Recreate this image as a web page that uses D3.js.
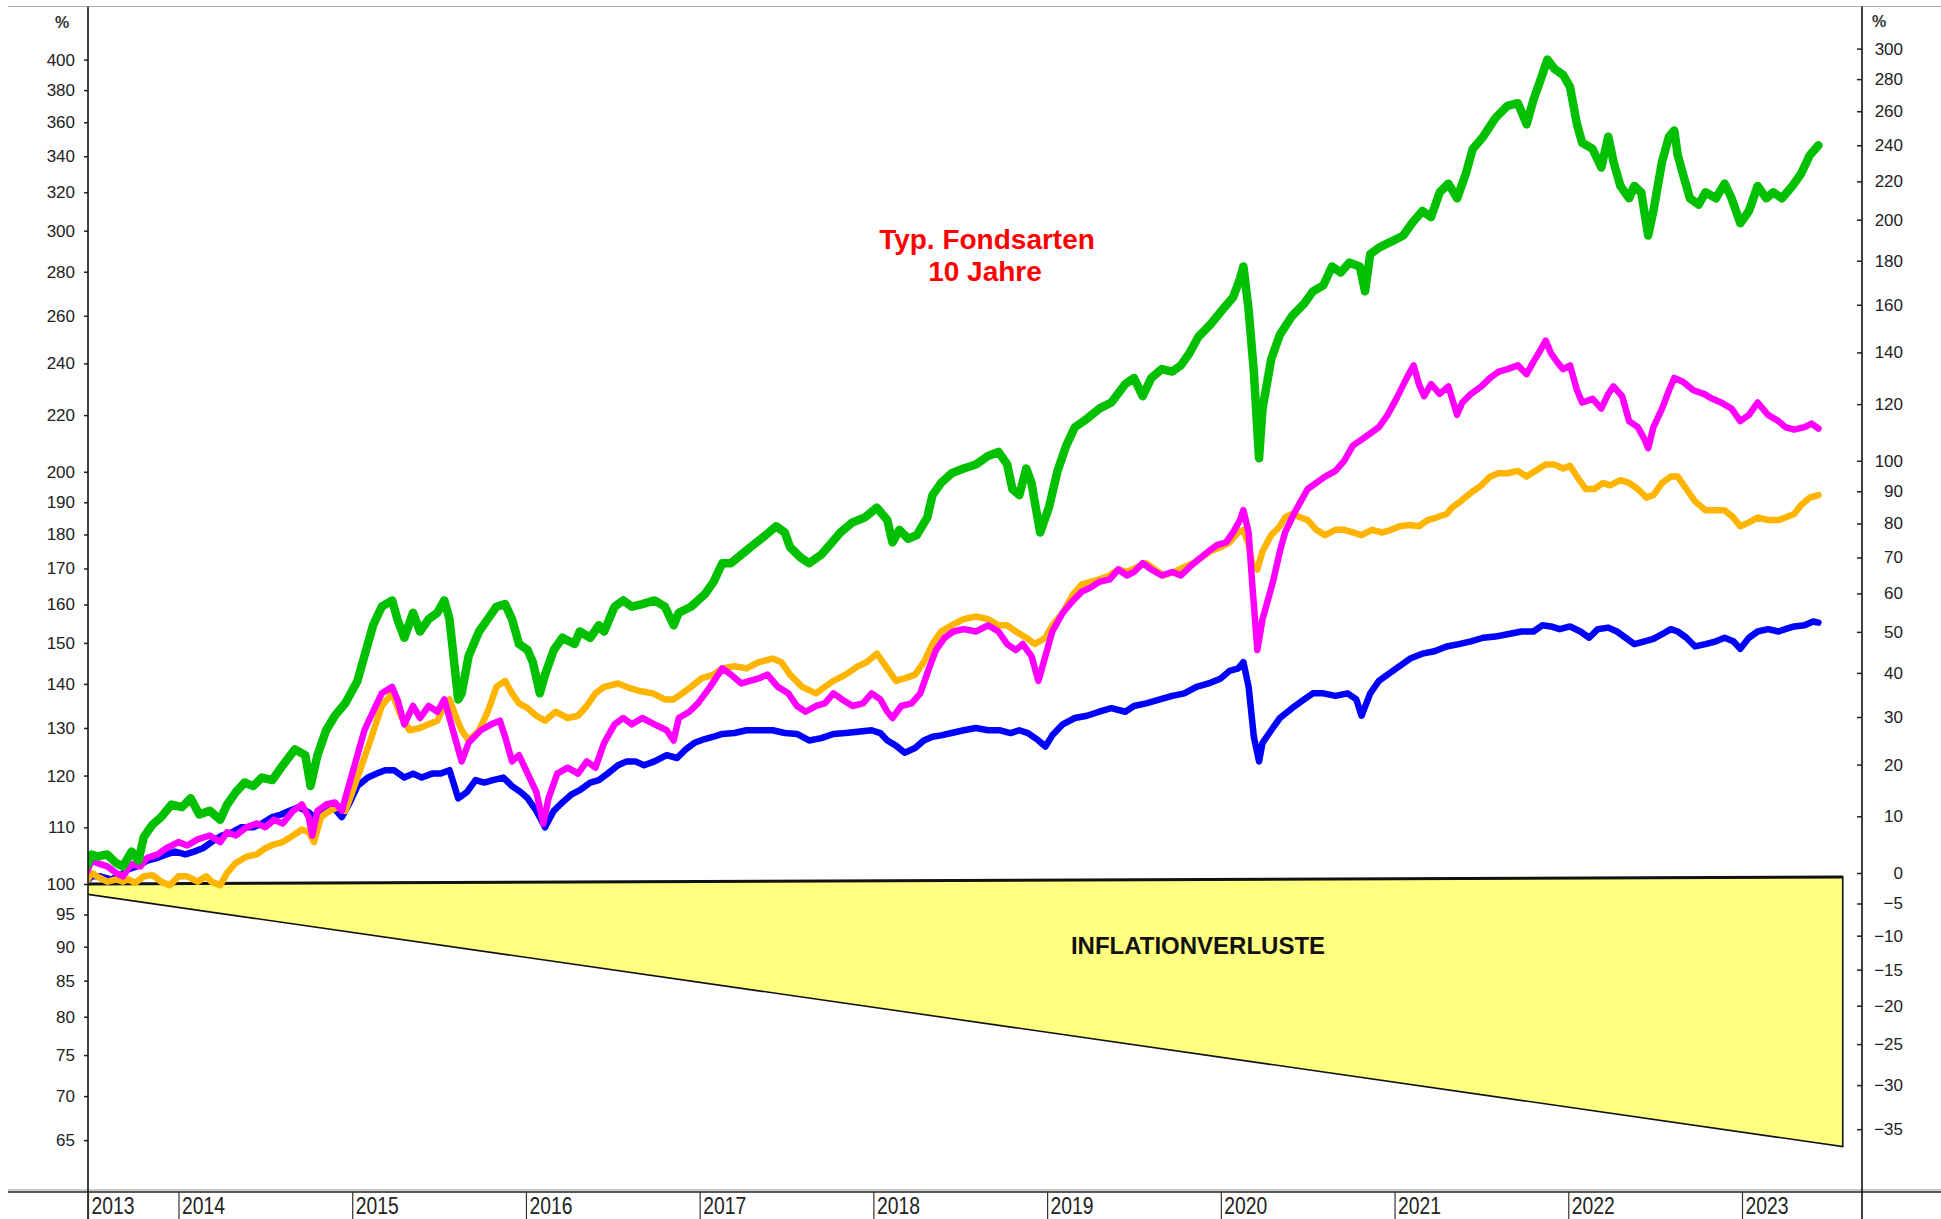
<!DOCTYPE html>
<html><head><meta charset="utf-8">
<script src="https://cdn.jsdelivr.net/npm/d3@7"></script>
<style>
html,body{margin:0;padding:0;background:#fff;}
svg{display:block;}
text{font-family:"Liberation Sans",Arial,sans-serif;}
</style></head><body>
<svg id="chart" width="1941" height="1219"></svg>
<script>
// ---------- DATA (index values, start = 100; x in decimal years) ----------
const greenSeries = [[2013.47,103.0],[2013.50,105.1],[2013.53,104.7],[2013.59,105.1],[2013.64,103.6],[2013.68,103.0],[2013.73,105.6],[2013.77,104.0],[2013.80,108.2],[2013.85,110.5],[2013.90,111.9],[2013.96,114.3],[2014.02,113.8],[2014.07,115.5],[2014.12,112.4],[2014.18,113.1],[2014.24,111.4],[2014.28,114.3],[2014.33,116.7],[2014.38,118.6],[2014.43,117.9],[2014.48,119.6],[2014.54,119.1],[2014.59,121.6],[2014.67,125.4],[2014.73,124.2],[2014.76,117.9],[2014.80,124.2],[2014.85,129.5],[2014.90,132.7],[2014.96,135.5],[2015.03,140.7],[2015.07,146.7],[2015.12,154.5],[2015.17,159.4],[2015.23,161.1],[2015.26,156.1],[2015.30,151.3],[2015.35,157.8],[2015.39,152.9],[2015.44,156.1],[2015.49,157.8],[2015.53,161.1],[2015.56,156.1],[2015.61,136.4],[2015.63,137.8],[2015.67,146.7],[2015.73,152.9],[2015.78,156.1],[2015.83,159.4],[2015.88,160.1],[2015.92,156.1],[2015.96,149.7],[2016.01,148.2],[2016.04,145.2],[2016.08,137.8],[2016.11,142.2],[2016.16,148.2],[2016.21,151.3],[2016.28,149.7],[2016.31,152.9],[2016.37,151.3],[2016.42,154.5],[2016.45,152.9],[2016.51,159.4],[2016.56,161.1],[2016.61,159.4],[2016.67,160.1],[2016.74,161.1],[2016.80,159.4],[2016.85,154.5],[2016.88,157.8],[2016.95,159.4],[2017.03,162.8],[2017.08,166.2],[2017.13,171.5],[2017.18,171.5],[2017.24,174.0],[2017.31,176.9],[2017.38,179.8],[2017.44,182.5],[2017.49,180.6],[2017.52,176.2],[2017.58,173.2],[2017.63,171.5],[2017.70,174.0],[2017.75,176.9],[2017.81,180.6],[2017.88,183.7],[2017.95,185.2],[2018.02,188.3],[2018.08,184.4],[2018.11,177.6],[2018.15,181.4],[2018.20,178.7],[2018.25,179.8],[2018.31,185.2],[2018.34,192.3],[2018.39,196.3],[2018.45,199.5],[2018.52,201.1],[2018.59,202.5],[2018.66,205.4],[2018.72,206.8],[2018.77,202.5],[2018.80,194.3],[2018.84,192.3],[2018.88,201.1],[2018.91,196.3],[2018.96,180.6],[2019.01,188.3],[2019.06,200.3],[2019.11,209.0],[2019.16,215.6],[2019.23,218.7],[2019.30,222.4],[2019.37,224.7],[2019.45,231.8],[2019.50,234.2],[2019.55,227.1],[2019.60,234.2],[2019.66,237.7],[2019.72,236.7],[2019.77,239.2],[2019.82,244.2],[2019.87,250.9],[2019.94,256.2],[2020.02,263.7],[2020.07,268.1],[2020.11,276.6],[2020.13,282.5],[2020.16,262.6],[2020.19,236.7],[2020.22,204.6],[2020.24,222.4],[2020.29,241.7],[2020.34,251.9],[2020.41,259.9],[2020.48,265.4],[2020.53,270.9],[2020.59,273.7],[2020.64,282.5],[2020.69,279.6],[2020.74,284.3],[2020.80,282.5],[2020.83,270.9],[2020.86,288.4],[2020.91,291.6],[2020.98,294.5],[2021.05,297.6],[2021.10,303.8],[2021.16,310.1],[2021.21,306.9],[2021.26,320.0],[2021.31,324.7],[2021.36,316.8],[2021.41,330.1],[2021.45,344.2],[2021.51,351.4],[2021.58,362.5],[2021.65,370.1],[2021.71,371.7],[2021.76,358.8],[2021.80,374.0],[2021.85,389.8],[2021.88,400.0],[2021.92,393.9],[2021.97,389.8],[2022.01,382.0],[2022.05,358.8],[2022.08,347.8],[2022.14,344.2],[2022.19,333.6],[2022.23,351.4],[2022.26,337.1],[2022.30,323.4],[2022.35,316.8],[2022.38,323.4],[2022.42,320.0],[2022.46,297.6],[2022.49,310.1],[2022.54,337.1],[2022.58,351.4],[2022.61,355.1],[2022.63,340.6],[2022.66,330.1],[2022.70,316.8],[2022.75,313.4],[2022.79,320.0],[2022.85,316.8],[2022.90,324.7],[2022.94,316.8],[2022.99,303.8],[2023.04,310.1],[2023.09,323.4],[2023.14,316.8],[2023.18,320.0],[2023.23,316.8],[2023.29,323.4],[2023.34,330.1],[2023.39,340.6],[2023.44,346.3]];

const magentaSeries = [[2013.47,101.9],[2013.50,104.0],[2013.55,103.4],[2013.59,103.0],[2013.64,101.9],[2013.68,101.3],[2013.73,103.4],[2013.78,103.0],[2013.82,104.5],[2013.88,105.1],[2013.93,106.2],[2014.00,107.3],[2014.05,106.7],[2014.11,107.8],[2014.18,108.5],[2014.24,107.3],[2014.28,109.1],[2014.33,108.5],[2014.39,110.0],[2014.45,110.7],[2014.50,110.0],[2014.55,111.4],[2014.60,110.7],[2014.66,113.1],[2014.71,114.3],[2014.75,111.9],[2014.77,108.5],[2014.80,113.1],[2014.85,114.3],[2014.90,114.7],[2014.94,113.1],[2014.97,116.7],[2015.02,122.9],[2015.07,129.5],[2015.12,133.6],[2015.17,137.8],[2015.23,139.3],[2015.26,136.4],[2015.30,130.8],[2015.35,134.9],[2015.39,132.2],[2015.44,134.9],[2015.49,133.6],[2015.53,136.4],[2015.56,132.2],[2015.60,126.8],[2015.63,122.9],[2015.67,126.8],[2015.74,129.5],[2015.80,130.8],[2015.85,131.6],[2015.88,128.1],[2015.92,122.9],[2015.96,124.2],[2016.01,120.4],[2016.06,116.7],[2016.10,110.7],[2016.13,115.5],[2016.18,120.4],[2016.24,121.6],[2016.30,120.4],[2016.35,122.9],[2016.40,121.6],[2016.45,126.8],[2016.51,130.8],[2016.56,132.2],[2016.61,130.8],[2016.67,132.2],[2016.74,130.8],[2016.81,129.5],[2016.85,127.3],[2016.88,132.2],[2016.94,133.6],[2016.99,135.5],[2017.06,139.3],[2017.13,143.7],[2017.18,142.2],[2017.24,140.1],[2017.29,140.7],[2017.34,141.3],[2017.39,142.2],[2017.45,139.3],[2017.51,137.8],[2017.56,134.9],[2017.61,133.6],[2017.67,134.9],[2017.72,135.5],[2017.77,137.8],[2017.82,136.4],[2017.88,134.9],[2017.94,135.5],[2017.99,137.8],[2018.04,136.4],[2018.08,133.6],[2018.11,132.2],[2018.16,134.9],[2018.22,135.5],[2018.27,137.8],[2018.32,143.7],[2018.36,148.2],[2018.41,151.3],[2018.46,152.9],[2018.52,153.5],[2018.59,152.9],[2018.66,154.5],[2018.72,152.9],[2018.77,149.7],[2018.82,148.2],[2018.86,149.7],[2018.91,146.7],[2018.95,140.7],[2018.99,146.7],[2019.03,152.9],[2019.09,157.8],[2019.15,161.1],[2019.20,163.5],[2019.25,164.6],[2019.30,166.2],[2019.36,166.9],[2019.41,169.7],[2019.46,168.0],[2019.50,169.0],[2019.55,171.5],[2019.60,169.7],[2019.66,168.0],[2019.72,169.0],[2019.77,168.0],[2019.82,170.4],[2019.87,172.5],[2019.93,175.0],[2019.98,176.9],[2020.03,177.6],[2020.07,180.6],[2020.11,184.4],[2020.13,187.5],[2020.16,180.6],[2020.18,166.2],[2020.21,148.2],[2020.24,156.1],[2020.30,166.2],[2020.34,175.0],[2020.37,180.6],[2020.42,186.3],[2020.46,190.3],[2020.50,194.3],[2020.55,196.3],[2020.60,198.4],[2020.66,200.3],[2020.71,203.7],[2020.76,209.0],[2020.81,211.1],[2020.86,213.3],[2020.91,215.6],[2020.96,220.1],[2021.01,226.1],[2021.07,234.2],[2021.11,239.2],[2021.14,231.8],[2021.17,227.1],[2021.21,231.8],[2021.26,228.0],[2021.31,230.9],[2021.36,220.1],[2021.39,224.7],[2021.44,228.0],[2021.50,230.9],[2021.55,234.2],[2021.60,236.7],[2021.65,237.7],[2021.71,239.2],[2021.76,235.7],[2021.80,240.7],[2021.83,244.2],[2021.87,249.4],[2021.90,244.2],[2021.94,240.2],[2021.97,237.7],[2022.01,239.2],[2022.05,229.4],[2022.08,224.7],[2022.14,226.1],[2022.19,222.4],[2022.23,228.0],[2022.26,230.9],[2022.31,227.1],[2022.35,217.8],[2022.40,215.6],[2022.44,211.1],[2022.46,208.1],[2022.49,215.6],[2022.54,222.4],[2022.58,229.4],[2022.61,234.2],[2022.66,232.7],[2022.72,229.4],[2022.78,228.0],[2022.83,226.1],[2022.88,224.7],[2022.94,222.4],[2022.99,217.8],[2023.04,220.1],[2023.09,224.7],[2023.15,220.1],[2023.21,217.8],[2023.25,215.6],[2023.30,214.7],[2023.36,215.6],[2023.40,216.9],[2023.44,215.1]];

const orangeSeries = [[2013.47,100.4],[2013.50,101.9],[2013.53,101.3],[2013.59,100.4],[2013.64,100.8],[2013.68,100.4],[2013.71,100.8],[2013.75,100.2],[2013.80,101.3],[2013.85,101.5],[2013.90,100.4],[2013.95,99.8],[2014.00,101.3],[2014.05,101.3],[2014.11,100.4],[2014.16,101.3],[2014.19,100.4],[2014.24,99.8],[2014.28,101.9],[2014.33,103.6],[2014.39,104.7],[2014.45,105.1],[2014.50,106.2],[2014.55,106.9],[2014.60,107.3],[2014.66,108.5],[2014.71,109.6],[2014.75,109.1],[2014.78,107.3],[2014.82,111.9],[2014.87,113.1],[2014.92,113.8],[2014.96,113.1],[2015.00,116.7],[2015.05,121.6],[2015.10,126.8],[2015.17,134.9],[2015.23,137.8],[2015.28,132.7],[2015.33,129.5],[2015.39,130.0],[2015.44,130.8],[2015.49,131.6],[2015.53,134.9],[2015.56,136.4],[2015.60,132.2],[2015.63,129.5],[2015.67,127.3],[2015.73,129.5],[2015.78,133.6],[2015.83,139.3],[2015.88,140.7],[2015.92,137.8],[2015.96,135.5],[2016.01,134.4],[2016.06,132.7],[2016.11,131.6],[2016.17,133.6],[2016.24,132.2],[2016.30,132.7],[2016.35,134.9],[2016.40,137.8],[2016.45,139.3],[2016.53,140.1],[2016.60,139.0],[2016.65,138.4],[2016.73,137.8],[2016.80,136.4],[2016.85,136.4],[2016.90,137.8],[2016.95,139.3],[2017.01,141.3],[2017.08,142.2],[2017.13,143.7],[2017.20,144.2],[2017.27,143.7],[2017.34,145.2],[2017.42,146.1],[2017.47,145.2],[2017.52,142.2],[2017.59,139.3],[2017.67,137.8],[2017.72,139.3],[2017.77,140.7],[2017.84,142.2],[2017.91,144.2],[2017.96,145.2],[2018.02,147.3],[2018.08,143.7],[2018.13,140.7],[2018.18,141.3],[2018.24,142.2],[2018.29,145.2],[2018.34,149.7],[2018.39,152.9],[2018.45,154.5],[2018.52,156.1],[2018.59,156.8],[2018.66,156.1],[2018.72,154.5],[2018.77,154.5],[2018.82,152.9],[2018.88,151.3],[2018.93,149.7],[2018.99,151.3],[2019.03,154.5],[2019.09,157.8],[2019.15,162.8],[2019.20,165.5],[2019.25,166.2],[2019.30,166.9],[2019.36,168.0],[2019.41,169.7],[2019.46,169.0],[2019.52,170.4],[2019.57,171.5],[2019.62,169.7],[2019.67,168.0],[2019.73,169.0],[2019.79,170.4],[2019.84,171.5],[2019.89,173.2],[2019.94,175.0],[2020.00,176.2],[2020.05,177.6],[2020.10,180.6],[2020.13,181.4],[2020.16,176.9],[2020.18,171.5],[2020.21,169.7],[2020.24,175.0],[2020.29,179.8],[2020.34,182.5],[2020.37,185.2],[2020.41,186.3],[2020.46,185.2],[2020.50,184.4],[2020.55,181.4],[2020.60,179.8],[2020.66,181.4],[2020.71,181.4],[2020.76,180.6],[2020.81,179.8],[2020.87,181.4],[2020.93,180.6],[2020.98,181.4],[2021.03,182.5],[2021.09,182.9],[2021.14,182.5],[2021.19,184.4],[2021.24,185.2],[2021.30,186.3],[2021.33,188.3],[2021.38,190.3],[2021.44,193.1],[2021.50,195.5],[2021.55,198.4],[2021.60,199.5],[2021.65,199.5],[2021.71,200.3],[2021.76,198.4],[2021.81,200.3],[2021.87,202.5],[2021.92,202.5],[2021.97,201.1],[2022.01,202.0],[2022.05,198.4],[2022.10,194.3],[2022.15,194.3],[2022.20,196.3],[2022.24,195.5],[2022.30,197.2],[2022.35,196.3],[2022.40,194.3],[2022.45,191.5],[2022.49,192.3],[2022.54,196.3],[2022.59,198.4],[2022.63,198.4],[2022.68,194.3],[2022.73,190.3],[2022.79,187.5],[2022.85,187.5],[2022.90,187.5],[2022.95,185.2],[2022.99,182.5],[2023.04,183.7],[2023.09,185.2],[2023.15,184.4],[2023.21,184.4],[2023.25,185.2],[2023.30,186.3],[2023.34,189.1],[2023.39,191.5],[2023.44,192.3]];

const blueSeries = [[2013.47,100.4],[2013.50,101.3],[2013.55,101.3],[2013.61,100.8],[2013.66,101.3],[2013.71,102.5],[2013.76,103.0],[2013.82,104.0],[2013.88,104.5],[2013.93,105.1],[2013.98,105.6],[2014.04,105.1],[2014.09,105.6],[2014.14,106.2],[2014.19,107.3],[2014.25,108.5],[2014.31,109.1],[2014.36,110.0],[2014.43,110.0],[2014.48,110.7],[2014.54,111.9],[2014.59,112.4],[2014.64,113.1],[2014.69,113.8],[2014.75,112.8],[2014.78,111.9],[2014.83,113.1],[2014.89,113.8],[2014.94,111.9],[2014.98,114.3],[2015.03,117.9],[2015.09,119.6],[2015.14,120.4],[2015.19,121.1],[2015.24,121.1],[2015.30,119.6],[2015.35,120.4],[2015.40,119.6],[2015.46,120.4],[2015.51,120.4],[2015.56,121.1],[2015.61,115.5],[2015.66,116.7],[2015.71,119.1],[2015.76,118.6],[2015.81,119.1],[2015.87,119.6],[2015.92,117.9],[2015.97,116.7],[2016.01,115.5],[2016.06,113.1],[2016.11,110.0],[2016.16,113.1],[2016.21,114.7],[2016.26,116.2],[2016.31,117.1],[2016.37,118.6],[2016.42,119.1],[2016.47,120.4],[2016.53,122.1],[2016.58,122.9],[2016.63,122.9],[2016.68,122.1],[2016.74,122.9],[2016.81,124.2],[2016.87,123.6],[2016.92,125.4],[2016.97,126.8],[2017.03,127.6],[2017.08,128.1],[2017.13,128.7],[2017.20,128.9],[2017.27,129.5],[2017.34,129.5],[2017.42,129.5],[2017.49,128.9],[2017.56,128.7],[2017.63,127.3],[2017.70,127.8],[2017.77,128.7],[2017.84,128.9],[2017.91,129.2],[2017.99,129.5],[2018.04,128.9],[2018.08,127.3],[2018.13,126.2],[2018.18,124.7],[2018.24,125.7],[2018.29,127.3],[2018.34,128.1],[2018.39,128.4],[2018.45,128.9],[2018.52,129.5],[2018.59,130.0],[2018.66,129.5],[2018.73,129.5],[2018.79,128.9],[2018.84,129.5],[2018.89,128.9],[2018.95,127.3],[2018.99,126.0],[2019.03,128.4],[2019.09,130.8],[2019.16,132.2],[2019.23,132.7],[2019.30,133.6],[2019.37,134.4],[2019.45,133.6],[2019.50,134.9],[2019.57,135.5],[2019.65,136.4],[2019.72,137.2],[2019.79,137.8],[2019.86,139.3],[2019.93,140.1],[2020.00,141.3],[2020.05,143.1],[2020.10,143.7],[2020.13,145.2],[2020.16,139.3],[2020.19,128.1],[2020.22,122.9],[2020.24,126.8],[2020.29,129.5],[2020.34,132.2],[2020.41,134.4],[2020.48,136.4],[2020.53,137.8],[2020.59,137.8],[2020.66,137.2],[2020.73,137.8],[2020.78,136.4],[2020.81,132.7],[2020.86,137.8],[2020.91,140.7],[2020.96,142.2],[2021.01,143.7],[2021.09,146.1],[2021.16,147.3],[2021.23,147.9],[2021.30,149.1],[2021.37,149.7],[2021.44,150.4],[2021.51,151.3],[2021.58,151.6],[2021.65,152.2],[2021.73,152.9],[2021.80,152.9],[2021.85,154.5],[2021.90,154.2],[2021.95,153.5],[2022.01,154.2],[2022.07,152.9],[2022.12,151.3],[2022.17,153.5],[2022.23,153.9],[2022.28,152.9],[2022.33,151.3],[2022.38,149.7],[2022.44,150.4],[2022.49,151.0],[2022.54,152.2],[2022.59,153.5],[2022.63,152.9],[2022.68,151.3],[2022.73,149.1],[2022.79,149.7],[2022.85,150.4],[2022.90,151.3],[2022.95,150.4],[2022.99,148.5],[2023.04,151.3],[2023.09,152.9],[2023.15,153.5],[2023.21,152.9],[2023.25,153.5],[2023.30,154.2],[2023.36,154.5],[2023.41,155.5],[2023.44,155.2]];

const inflationYears = [2013.47, 2023.58];
const inflationUpper = [100, 101.2];
const inflationLower = [98.3, 64.3];

const leftTicks = [400,380,360,340,320,300,280,260,240,220,200,190,180,170,160,150,140,130,120,110,100,95,90,85,80,75,70,65];
const rightTicks = [300,280,260,240,220,200,180,160,140,120,100,90,80,70,60,50,40,30,20,10,0,-5,-10,-15,-20,-25,-30,-35];
const yearTicks = [2014,2015,2016,2017,2018,2019,2020,2021,2022,2023];
const titleLines = ["Typ. Fondsarten","10 Jahre"];
const areaLabel = "INFLATIONVERLUSTE";

// ---------- LAYOUT ----------
const W = 1941, H = 1219;
const axL = 88, axR = 1862, topY = 6.5, botY = 1192;
const svg = d3.select("#chart");

const x = d3.scaleLinear().domain([2014, 2023]).range([178.5, 1742]);
const y = d3.scaleLog().domain([100, 400]).range([884, 59.6]);
const yRight = d3.scaleLog().domain([100, 400]).range([884 - 11, 59.6 - 11]);

svg.append("defs").append("clipPath").attr("id","plot")
  .append("rect").attr("x",axL).attr("y",topY).attr("width",axR-axL).attr("height",botY-topY);

// frame lines
svg.append("line").attr("x1",8).attr("x2",W).attr("y1",topY).attr("y2",topY).attr("stroke","#b0b0b0").attr("stroke-width",1.2);
svg.append("line").attr("x1",8).attr("x2",W).attr("y1",botY-2).attr("y2",botY-2).attr("stroke","#999").attr("stroke-width",1);
svg.append("line").attr("x1",8).attr("x2",W).attr("y1",botY).attr("y2",botY).attr("stroke","#222").attr("stroke-width",1.6);

const plot = svg.append("g").attr("clip-path","url(#plot)");

// inflation area
const inflData = inflationYears.map((t,i)=>({t, lo:inflationLower[i], hi:inflationUpper[i]}));
plot.append("path").datum(inflData)
  .attr("d", d3.area().x(d=>x(d.t)).y0(d=>y(d.lo)).y1(d=>y(d.hi)))
  .attr("fill","#ffff80").attr("stroke","#111").attr("stroke-width",1.6);
plot.append("path").datum(inflData)
  .attr("d", d3.line().x(d=>x(d.t)).y(d=>y(d.hi)))
  .attr("fill","none").attr("stroke","#111").attr("stroke-width",3);

// series
const line = d3.line().x(d=>x(d[0])).y(d=>y(d[1])).curve(d3.curveLinear);
const seriesDefs = [
  {data: blueSeries, color:"#0000ff", w:6.5},
  {data: orangeSeries, color:"#ffb400", w:6.5},
  {data: magentaSeries, color:"#ff00ff", w:6.5},
  {data: greenSeries, color:"#00c000", w:8.5}
];
seriesDefs.forEach(s=>{
  plot.append("path").datum(s.data).attr("d", line)
    .attr("fill","none").attr("stroke", s.color).attr("stroke-width", s.w)
    .attr("stroke-linejoin","round").attr("stroke-linecap","round");
});

// left axis
const gL = svg.append("g").attr("transform",`translate(${axL},0)`)
  .call(d3.axisLeft(y).tickValues(leftTicks).tickFormat(d3.format("d")).tickSize(4).tickPadding(9));
gL.select(".domain").remove();
gL.selectAll("line").attr("stroke","#222").attr("stroke-width",1.5);
gL.selectAll("text").attr("font-size",17).attr("fill","#222").attr("font-family","Liberation Sans, Arial, sans-serif");
svg.append("line").attr("x1",axL).attr("x2",axL).attr("y1",topY).attr("y2",H).attr("stroke","#111").attr("stroke-width",1.6);

// right axis
const gR = svg.append("g").attr("transform",`translate(${axR},0)`)
  .call(d3.axisRight(yRight).tickValues(rightTicks.map(p=>p+100)).tickFormat(d=>d3.format("d")(d-100)).tickSizeInner(-5).tickSizeOuter(0).tickPadding(0));
gR.select(".domain").remove();
gR.selectAll("line").attr("stroke","#222").attr("stroke-width",1.5);
gR.selectAll("text").attr("font-size",17).attr("fill","#222").attr("text-anchor","end").attr("x",41)
  .attr("font-family","Liberation Sans, Arial, sans-serif");
svg.append("line").attr("x1",axR).attr("x2",axR).attr("y1",topY).attr("y2",H).attr("stroke","#111").attr("stroke-width",1.6);

// % labels
svg.append("text").attr("x",62).attr("y",28).attr("text-anchor","middle").attr("font-size",16).attr("font-weight","bold").attr("fill","#333").text("%");
svg.append("text").attr("x",1879).attr("y",27).attr("text-anchor","middle").attr("font-size",16).attr("font-weight","bold").attr("fill","#333").text("%");

// bottom year band
const startYear = x.invert(axL);
const gB = svg.append("g").attr("transform",`translate(0,${botY})`)
  .call(d3.axisBottom(x).tickValues([startYear, ...yearTicks]).tickFormat(d=>Math.floor(d+1e-6)).tickSize(H-botY).tickPadding(0));
gB.select(".domain").remove();
gB.selectAll("line").attr("stroke","#333").attr("stroke-width",1.2);
gB.selectAll("text").attr("text-anchor","start").attr("x",3).attr("y",22).attr("dy",0)
  .attr("font-size",23).attr("fill","#222")
  .attr("textLength",43).attr("lengthAdjust","spacingAndGlyphs")
  .attr("font-family","Liberation Sans Narrow, Arial Narrow, Liberation Sans, sans-serif");

// title
const tg = svg.append("g").attr("fill","#ff0000").attr("font-weight","bold").attr("font-size",28).attr("text-anchor","middle");
tg.append("text").attr("x",987).attr("y",249).text(titleLines[0]);
tg.append("text").attr("x",985).attr("y",281).text(titleLines[1]);

// area label
svg.append("text").attr("x",1198).attr("y",954).attr("text-anchor","middle")
  .attr("font-weight","bold").attr("font-size",24).attr("fill","#111").text(areaLabel);
</script>
</body></html>
